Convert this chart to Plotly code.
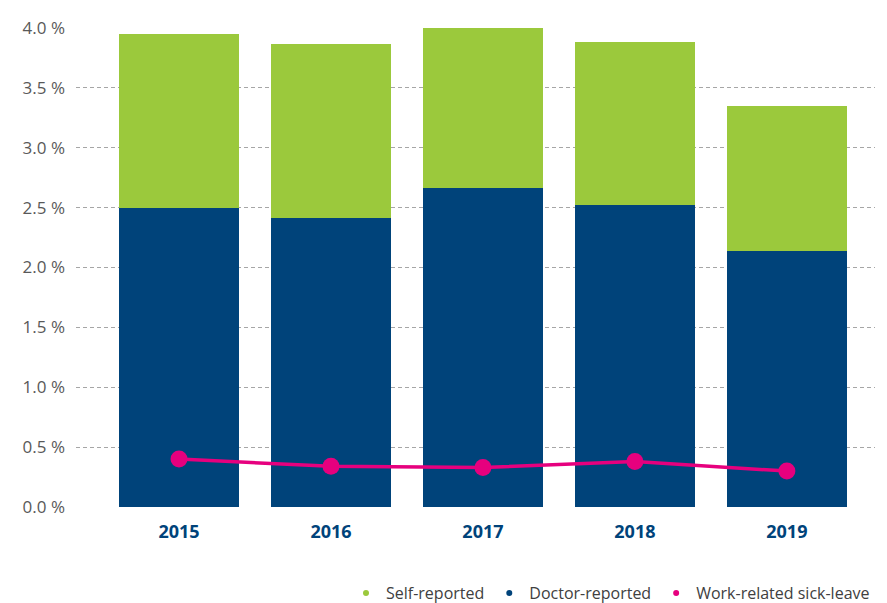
import plotly.graph_objects as go

years = ["2015", "2016", "2017", "2018", "2019"]
doctor_reported = [2.50, 2.41, 2.66, 2.52, 2.14]
self_reported = [1.45, 1.46, 1.34, 1.36, 1.21]
work_related = [0.40, 0.34, 0.33, 0.38, 0.30]
y_ticks = [0.0, 0.5, 1.0, 1.5, 2.0, 2.5, 3.0, 3.5, 4.0]
y_tick_labels = ["0.0 %", "0.5 %", "1.0 %", "1.5 %", "2.0 %", "2.5 %", "3.0 %", "3.5 %", "4.0 %"]

GREEN = "#9BC93C"
NAVY = "#00437A"
MAGENTA = "#E6007E"

fig = go.Figure()
fig.add_trace(go.Bar(x=years, y=doctor_reported, name="Doctor-reported",
                     marker=dict(color=NAVY, line=dict(width=0)), showlegend=False))
fig.add_trace(go.Bar(x=years, y=self_reported, name="Self-reported",
                     marker=dict(color=GREEN, line=dict(width=0)), showlegend=False))
fig.add_trace(go.Scatter(x=years, y=work_related, name="Work-related sick-leave",
                         mode="lines+markers", line=dict(color=MAGENTA, width=3.5),
                         marker=dict(color=MAGENTA, size=17), showlegend=False))

# legend entries shown as small dots
for name, col in [("Self-reported", GREEN), ("Doctor-reported", NAVY),
                  ("Work-related sick-leave", MAGENTA)]:
    fig.add_trace(go.Scatter(x=[None], y=[None], mode="markers", name=name,
                             marker=dict(color=col, size=6)))

fig.update_layout(
    width=887, height=603,
    barmode="stack", bargap=0.21,
    plot_bgcolor="white", paper_bgcolor="white",
    margin=dict(l=76, r=12, t=28, b=96, autoexpand=False),
    font=dict(family="Open Sans, sans-serif", color="#404040"),
    legend=dict(orientation="h", x=1.0, xanchor="right", y=-0.18, yanchor="middle",
                font=dict(size=16, color="#404040"), itemwidth=30,
                traceorder="normal"),
    xaxis=dict(type="category", range=[-0.678, 4.58], showgrid=False,
               showline=False, ticks="", ticklabelstandoff=12,
               tickfont=dict(size=18, color=NAVY, family="Open Sans, sans-serif", weight="bold")),
    yaxis=dict(range=[0, 4.0], tickvals=y_ticks, ticktext=y_tick_labels,
               showgrid=True, gridcolor="#A6A6A6", griddash="4px,3px", gridwidth=1,
               zeroline=False, showline=False, ticks="", ticklabelstandoff=10,
               tickfont=dict(size=17, color="#595959")),
)

fig.write_html("out.html")
